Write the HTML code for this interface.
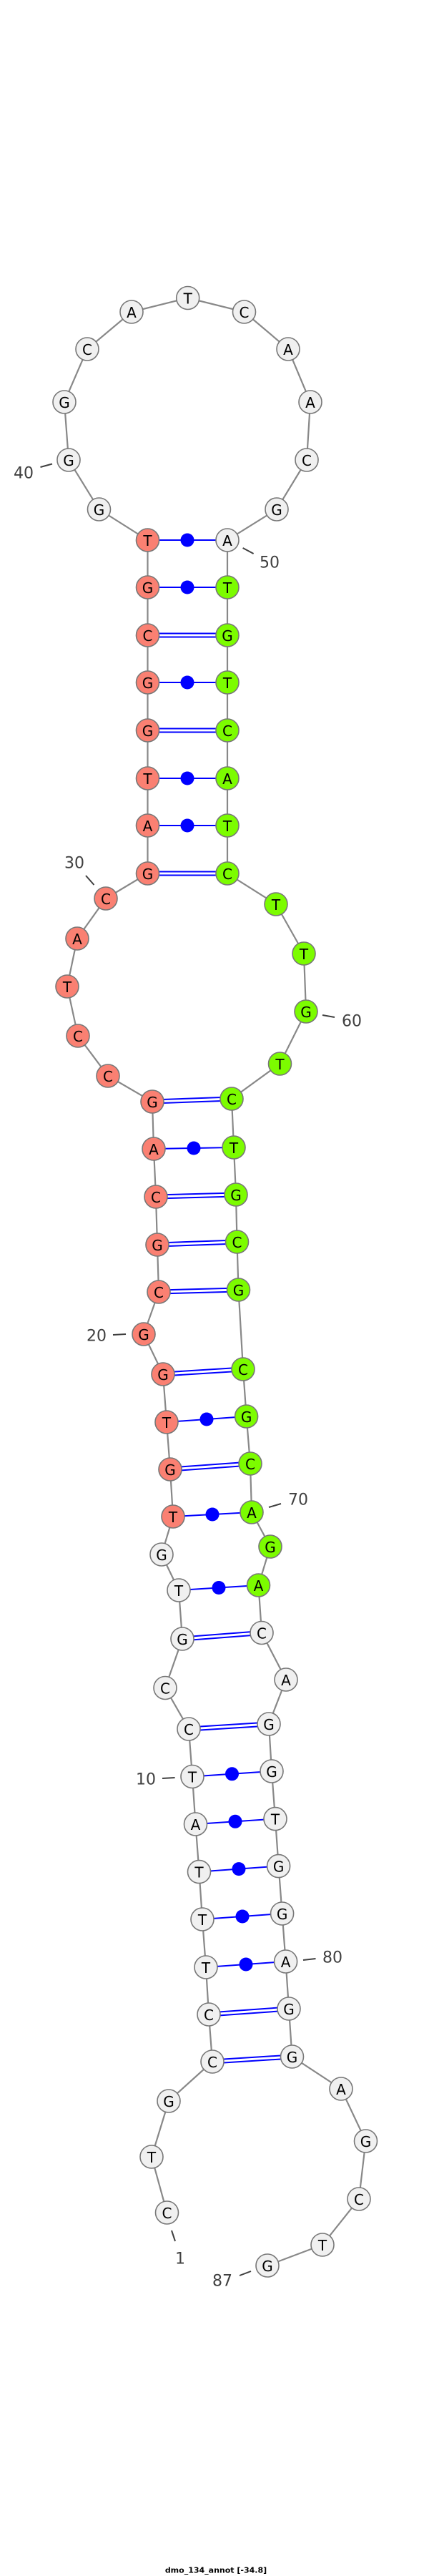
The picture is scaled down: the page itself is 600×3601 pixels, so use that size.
<!DOCTYPE html>
<html><head><meta charset="utf-8"><style>
html,body{margin:0;padding:0;background:#fff;}
svg{display:block;}
.n{stroke:#777;stroke-width:1.6;}
.w{fill:#f0f0f0}.s{fill:#fa8072}.g{fill:#7cfc00}
.t{font-family:"DejaVu Sans","Liberation Sans",sans-serif;font-size:20px;text-anchor:middle;dominant-baseline:central;fill:#000}
.l{font-family:"DejaVu Sans","Liberation Sans",sans-serif;font-size:22px;font-weight:normal;fill:#404040;text-anchor:middle;dominant-baseline:central}
.k{stroke:#404040;stroke-width:2}
.p{stroke:#00f;stroke-width:2}
</style></head><body>
<svg width="600" height="3601" viewBox="0 0 600 3601" xmlns="http://www.w3.org/2000/svg">
<polyline fill="none" stroke="#888" stroke-width="2.2" points="233.5,3093 212,3015 236,2937 297,2882 292,2816 288,2750 283,2683 278.5,2616.6 273.5,2550 269,2483.5 264,2417 231,2359.5 255,2291 250,2223 226,2173 242,2120 238,2054 233,1988 228,1921 201,1865 222,1806 220,1740 218,1673 215,1606 213,1540 151,1504 109,1448 94,1379 108,1312 148,1256 206.5,1221 206.5,1154 206.5,1088 206.5,1021 206.5,954 206.5,888 206.5,821 206.5,755 138.5,712 96,643 90,562 122,488 184,436 262.7,416.5 341.5,436 403,488 434,562 429,643 387,712 318,755 318,821 318,888 318,954 318,1021 318,1088 318,1154 318,1221 386,1264 425,1333 428,1414 391.5,1487 324,1536 327,1604 330,1670 331.5,1736 333.5,1803 340,1914 344.6,1980 350,2046 352,2114 378,2162 361.5,2216 366,2282.5 400,2348 376,2410 380,2476 385,2542.6 389.6,2608.6 394.6,2675 399.6,2742 404,2808 408.5,2875 477,2920 511.5,2993 502,3074 451,3138 374,3167"/>
<g class="p">
<line x1="297" y1="2879.5" x2="408.5" y2="2872.5"/><line x1="297" y1="2884.5" x2="408.5" y2="2877.5"/>
<line x1="292" y1="2813.5" x2="404" y2="2805.5"/><line x1="292" y1="2818.5" x2="404" y2="2810.5"/>
<line x1="264" y1="2414.5" x2="376" y2="2407.5"/><line x1="264" y1="2419.5" x2="376" y2="2412.5"/>
<line x1="255" y1="2288.5" x2="366" y2="2280"/><line x1="255" y1="2293.5" x2="366" y2="2285"/>
<line x1="238" y1="2051.5" x2="350" y2="2043.5"/><line x1="238" y1="2056.5" x2="350" y2="2048.5"/>
<line x1="228" y1="1918.5" x2="340" y2="1911.5"/><line x1="228" y1="1923.5" x2="340" y2="1916.5"/>
<line x1="222" y1="1803.5" x2="333.5" y2="1800.5"/><line x1="222" y1="1808.5" x2="333.5" y2="1805.5"/>
<line x1="220" y1="1737.5" x2="331.5" y2="1733.5"/><line x1="220" y1="1742.5" x2="331.5" y2="1738.5"/>
<line x1="218" y1="1670.5" x2="330" y2="1667.5"/><line x1="218" y1="1675.5" x2="330" y2="1672.5"/>
<line x1="213" y1="1537.5" x2="324" y2="1533.5"/><line x1="213" y1="1542.5" x2="324" y2="1538.5"/>
<line x1="206.5" y1="1218.5" x2="318" y2="1218.5"/><line x1="206.5" y1="1223.5" x2="318" y2="1223.5"/>
<line x1="206.5" y1="1018.5" x2="318" y2="1018.5"/><line x1="206.5" y1="1023.5" x2="318" y2="1023.5"/>
<line x1="206.5" y1="885.5" x2="318" y2="885.5"/><line x1="206.5" y1="890.5" x2="318" y2="890.5"/>
<line x1="288" y1="2750" x2="399.6" y2="2742"/>
<line x1="283" y1="2683" x2="394.6" y2="2675"/>
<line x1="278.5" y1="2616.6" x2="389.6" y2="2608.6"/>
<line x1="273.5" y1="2550" x2="385" y2="2542.6"/>
<line x1="269" y1="2483.5" x2="380" y2="2476"/>
<line x1="250" y1="2223" x2="361.5" y2="2216"/>
<line x1="242" y1="2120" x2="352" y2="2114"/>
<line x1="233" y1="1988" x2="344.6" y2="1980"/>
<line x1="215" y1="1606" x2="327" y2="1604"/>
<line x1="206.5" y1="1154" x2="318" y2="1154"/>
<line x1="206.5" y1="1088" x2="318" y2="1088"/>
<line x1="206.5" y1="954" x2="318" y2="954"/>
<line x1="206.5" y1="821" x2="318" y2="821"/>
<line x1="206.5" y1="755" x2="318" y2="755"/>
</g>
<g fill="#00f">
<circle cx="344" cy="2746" r="9.5"/><circle cx="339" cy="2679" r="9.5"/><circle cx="334" cy="2612.6" r="9.5"/>
<circle cx="329" cy="2546.3" r="9.5"/><circle cx="324.5" cy="2479.8" r="9.5"/><circle cx="306" cy="2219.5" r="9.5"/>
<circle cx="297" cy="2117" r="9.5"/><circle cx="289" cy="1984" r="9.5"/><circle cx="271" cy="1605" r="9.5"/>
<circle cx="262" cy="1154" r="9.5"/><circle cx="262" cy="1088" r="9.5"/><circle cx="262" cy="954" r="9.5"/>
<circle cx="262" cy="821" r="9.5"/><circle cx="262" cy="755" r="9.5"/>
</g>
<g class="n">
<circle class="w" cx="233.5" cy="3093" r="16"/><circle class="w" cx="212" cy="3015" r="16"/><circle class="w" cx="236" cy="2937" r="16"/>
<circle class="w" cx="297" cy="2882" r="16"/><circle class="w" cx="292" cy="2816" r="16"/><circle class="w" cx="288" cy="2750" r="16"/>
<circle class="w" cx="283" cy="2683" r="16"/><circle class="w" cx="278.5" cy="2616.6" r="16"/><circle class="w" cx="273.5" cy="2550" r="16"/>
<circle class="w" cx="269" cy="2483.5" r="16"/><circle class="w" cx="264" cy="2417" r="16"/><circle class="w" cx="231" cy="2359.5" r="16"/>
<circle class="w" cx="255" cy="2291" r="16"/><circle class="w" cx="250" cy="2223" r="16"/><circle class="w" cx="226" cy="2173" r="16"/>
<circle class="s" cx="242" cy="2120" r="16"/><circle class="s" cx="238" cy="2054" r="16"/><circle class="s" cx="233" cy="1988" r="16"/>
<circle class="s" cx="228" cy="1921" r="16"/><circle class="s" cx="201" cy="1865" r="16"/><circle class="s" cx="222" cy="1806" r="16"/>
<circle class="s" cx="220" cy="1740" r="16"/><circle class="s" cx="218" cy="1673" r="16"/><circle class="s" cx="215" cy="1606" r="16"/>
<circle class="s" cx="213" cy="1540" r="16"/><circle class="s" cx="151" cy="1504" r="16"/><circle class="s" cx="109" cy="1448" r="16"/>
<circle class="s" cx="94" cy="1379" r="16"/><circle class="s" cx="108" cy="1312" r="16"/><circle class="s" cx="148" cy="1256" r="16"/>
<circle class="s" cx="206.5" cy="1221" r="16"/><circle class="s" cx="206.5" cy="1154" r="16"/><circle class="s" cx="206.5" cy="1088" r="16"/>
<circle class="s" cx="206.5" cy="1021" r="16"/><circle class="s" cx="206.5" cy="954" r="16"/><circle class="s" cx="206.5" cy="888" r="16"/>
<circle class="s" cx="206.5" cy="821" r="16"/><circle class="s" cx="206.5" cy="755" r="16"/>
<circle class="w" cx="138.5" cy="712" r="16"/><circle class="w" cx="96" cy="643" r="16"/><circle class="w" cx="90" cy="562" r="16"/>
<circle class="w" cx="122" cy="488" r="16"/><circle class="w" cx="184" cy="436" r="16"/><circle class="w" cx="262.7" cy="416.5" r="16"/>
<circle class="w" cx="341.5" cy="436" r="16"/><circle class="w" cx="403" cy="488" r="16"/><circle class="w" cx="434" cy="562" r="16"/>
<circle class="w" cx="429" cy="643" r="16"/><circle class="w" cx="387" cy="712" r="16"/><circle class="w" cx="318" cy="755" r="16"/>
<circle class="g" cx="318" cy="821" r="16"/><circle class="g" cx="318" cy="888" r="16"/><circle class="g" cx="318" cy="954" r="16"/>
<circle class="g" cx="318" cy="1021" r="16"/><circle class="g" cx="318" cy="1088" r="16"/><circle class="g" cx="318" cy="1154" r="16"/>
<circle class="g" cx="318" cy="1221" r="16"/><circle class="g" cx="386" cy="1264" r="16"/><circle class="g" cx="425" cy="1333" r="16"/>
<circle class="g" cx="428" cy="1414" r="16"/><circle class="g" cx="391.5" cy="1487" r="16"/><circle class="g" cx="324" cy="1536" r="16"/>
<circle class="g" cx="327" cy="1604" r="16"/><circle class="g" cx="330" cy="1670" r="16"/><circle class="g" cx="331.5" cy="1736" r="16"/>
<circle class="g" cx="333.5" cy="1803" r="16"/><circle class="g" cx="340" cy="1914" r="16"/><circle class="g" cx="344.6" cy="1980" r="16"/>
<circle class="g" cx="350" cy="2046" r="16"/><circle class="g" cx="352" cy="2114" r="16"/><circle class="g" cx="378" cy="2162" r="16"/>
<circle class="g" cx="361.5" cy="2216" r="16"/>
<circle class="w" cx="366" cy="2282.5" r="16"/><circle class="w" cx="400" cy="2348" r="16"/><circle class="w" cx="376" cy="2410" r="16"/>
<circle class="w" cx="380" cy="2476" r="16"/><circle class="w" cx="385" cy="2542.6" r="16"/><circle class="w" cx="389.6" cy="2608.6" r="16"/>
<circle class="w" cx="394.6" cy="2675" r="16"/><circle class="w" cx="399.6" cy="2742" r="16"/><circle class="w" cx="404" cy="2808" r="16"/>
<circle class="w" cx="408.5" cy="2875" r="16"/><circle class="w" cx="477" cy="2920" r="16"/><circle class="w" cx="511.5" cy="2993" r="16"/>
<circle class="w" cx="502" cy="3074" r="16"/><circle class="w" cx="451" cy="3138" r="16"/><circle class="w" cx="374" cy="3167" r="16"/>
</g>
<g class="t">
<text x="233.5" y="3094">C</text><text x="212" y="3016">T</text><text x="236" y="2938">G</text>
<text x="297" y="2883">C</text><text x="292" y="2817">C</text><text x="288" y="2751">T</text>
<text x="283" y="2684">T</text><text x="278.5" y="2617.6">T</text><text x="273.5" y="2551">A</text>
<text x="269" y="2484.5">T</text><text x="264" y="2418">C</text><text x="231" y="2360.5">C</text>
<text x="255" y="2292">G</text><text x="250" y="2224">T</text><text x="226" y="2174">G</text>
<text x="242" y="2121">T</text><text x="238" y="2055">G</text><text x="233" y="1989">T</text>
<text x="228" y="1922">G</text><text x="201" y="1866">G</text><text x="222" y="1807">C</text>
<text x="220" y="1741">G</text><text x="218" y="1674">C</text><text x="215" y="1607">A</text>
<text x="213" y="1541">G</text><text x="151" y="1505">C</text><text x="109" y="1449">C</text>
<text x="94" y="1380">T</text><text x="108" y="1313">A</text><text x="148" y="1257">C</text>
<text x="206.5" y="1222">G</text><text x="206.5" y="1155">A</text><text x="206.5" y="1089">T</text>
<text x="206.5" y="1022">G</text><text x="206.5" y="955">G</text><text x="206.5" y="889">C</text>
<text x="206.5" y="822">G</text><text x="206.5" y="756">T</text>
<text x="138.5" y="713">G</text><text x="96" y="644">G</text><text x="90" y="563">G</text>
<text x="122" y="489">C</text><text x="184" y="437">A</text><text x="262.7" y="417.5">T</text>
<text x="341.5" y="437">C</text><text x="403" y="489">A</text><text x="434" y="563">A</text>
<text x="429" y="644">C</text><text x="387" y="713">G</text><text x="318" y="756">A</text>
<text x="318" y="822">T</text><text x="318" y="889">G</text><text x="318" y="955">T</text>
<text x="318" y="1022">C</text><text x="318" y="1089">A</text><text x="318" y="1155">T</text>
<text x="318" y="1222">C</text><text x="386" y="1265">T</text><text x="425" y="1334">T</text>
<text x="428" y="1415">G</text><text x="391.5" y="1488">T</text><text x="324" y="1537">C</text>
<text x="327" y="1605">T</text><text x="330" y="1671">G</text><text x="331.5" y="1737">C</text>
<text x="333.5" y="1804">G</text><text x="340" y="1915">C</text><text x="344.6" y="1981">G</text>
<text x="350" y="2047">C</text><text x="352" y="2115">A</text><text x="378" y="2163">G</text>
<text x="361.5" y="2217">A</text><text x="366" y="2283.5">C</text><text x="400" y="2349">A</text>
<text x="376" y="2411">G</text><text x="380" y="2477">G</text><text x="385" y="2543.6">T</text>
<text x="389.6" y="2609.6">G</text><text x="394.6" y="2676">G</text><text x="399.6" y="2743">A</text>
<text x="404" y="2809">G</text><text x="408.5" y="2876">G</text><text x="477" y="2921">A</text>
<text x="511.5" y="2994">G</text><text x="502" y="3075">C</text><text x="451" y="3139">T</text>
<text x="374" y="3168">G</text>
</g>
<g class="k">
<line x1="56.5" y1="653" x2="73" y2="648.5"/>
<line x1="339.6" y1="766" x2="354.6" y2="774"/>
<line x1="120" y1="1224" x2="131.5" y2="1237"/>
<line x1="451" y1="1419" x2="468" y2="1422"/>
<line x1="158" y1="1866" x2="176" y2="1865"/>
<line x1="376" y1="2107" x2="393" y2="2102"/>
<line x1="227" y1="2486" x2="244.6" y2="2485"/>
<line x1="424" y1="2740" x2="441.5" y2="2738"/>
<line x1="240" y1="3118" x2="245" y2="3133"/>
<line x1="335" y1="3181" x2="351" y2="3175"/>
</g>
<g class="l">
<text x="33" y="662">40</text>
<text x="377" y="787">50</text>
<text x="104" y="1207">30</text>
<text x="492" y="1428">60</text>
<text x="135" y="1868">20</text>
<text x="417" y="2097">70</text>
<text x="204" y="2488">10</text>
<text x="465" y="2737">80</text>
<text x="252" y="3158">1</text>
<text x="311" y="3189">87</text>
</g>
<text x="302" y="3593" style="font-family:'DejaVu Sans','Liberation Sans',sans-serif;font-size:11px;font-weight:bold;text-anchor:middle;dominant-baseline:central;fill:#000">dmo_134_annot [-34.8]</text>
</svg>
</body></html>
